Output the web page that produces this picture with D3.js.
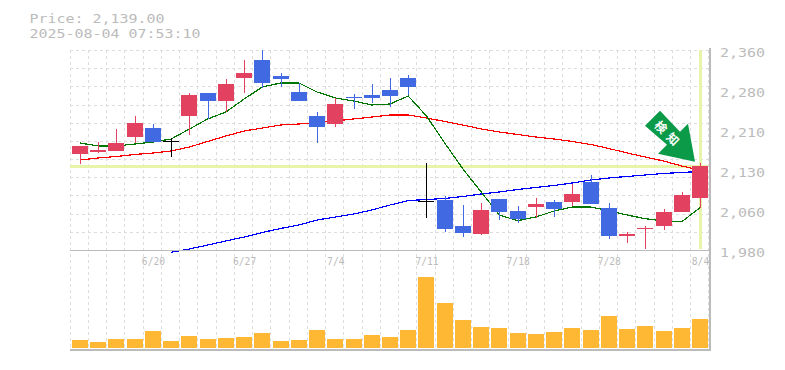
<!DOCTYPE html>
<html>
<head>
    <meta charset="utf-8">
    <title>Price</title>
    <script src="https://cdn.jsdelivr.net/npm/d3@7"></script>
    <style>
        body { margin: 0; background: #fff; }
        svg { display: block; }
        text { font-family: "DejaVu Sans Mono", monospace; fill: #bbb; opacity: 0.99; }
    </style>
</head>

<body>

<script>
    const dates = ["6/16", "6/17", "6/18", "6/19", "6/20", "6/23", "6/24", "6/25", "6/26", "6/27",
        "6/30", "7/1", "7/2", "7/3", "7/4", "7/7", "7/8", "7/9", "7/10", "7/11",
        "7/14", "7/15", "7/16", "7/17", "7/18", "7/22", "7/23", "7/24", "7/25", "7/28",
        "7/29", "7/30", "7/31", "8/1", "8/4"];
    const dateTicks = ["6/20", "6/27", "7/4", "7/11", "7/18", "7/28", "8/4"];
    const priceTicks = [2360, 2284, 2208, 2132, 2056, 1980];

    const opens = [2162, 2166, 2168, 2195, 2212, 2187, 2235, 2278, 2263, 2307, 2341, 2311, 2280, 2235, 2219,
        2271, 2275, 2284, 2307, 2073, 2075, 2026, 2010, 2077, 2054, 2062, 2071, 2071, 2109, 2060,
        2007, 2021, 2026, 2052, 2079];
    const highs = [2178, 2185, 2210, 2235, 2219, 2193, 2278, 2278, 2305, 2341, 2360, 2316, 2297, 2242, 2269,
        2276, 2295, 2307, 2312, 2145, 2083, 2065, 2069, 2077, 2064, 2079, 2075, 2105, 2122, 2069,
        2014, 2026, 2058, 2090, 2145];
    const lows = [2143, 2164, 2168, 2183, 2185, 2157, 2198, 2229, 2242, 2278, 2288, 2290, 2263, 2183, 2214,
        2248, 2259, 2252, 2275, 2041, 2014, 2005, 2008, 2037, 2031, 2041, 2043, 2064, 2067, 2001,
        1993, 1982, 2018, 2052, 2060];
    const closes = [2178, 2170, 2183, 2221, 2185, 2187, 2275, 2263, 2295, 2316, 2297, 2305, 2263, 2214, 2257,
        2269, 2269, 2273, 2290, 2073, 2020, 2012, 2056, 2052, 2039, 2067, 2058, 2086, 2067, 2007,
        2010, 2022, 2052, 2084, 2139];
    const volumes = [80, 60, 90, 90, 170, 70, 120, 90, 100, 110, 150, 70, 80, 180, 90, 90, 130, 110,
        180, 710, 450, 280, 210, 200, 150, 140, 160, 200, 180, 320, 190, 220, 170, 200, 290];

    const maShort = [2183.3, 2177.6, 2177.6, 2181.4, 2185.2, 2190.9, 2209.9, 2228.9, 2242.2, 2266.9, 2289.7, 2297.3,
        2297.3, 2280.2, 2268.8, 2263.1, 2255.5, 2257.4, 2272.6, 2234.6, 2183.3, 2133.9, 2090.2, 2046.5,
        2035.7, 2042.7, 2054.1, 2061.7, 2061.7, 2054.7, 2046.5, 2039.5, 2035.1, 2033.8, 2060.4];
    const maMid = [2151, 2154.8, 2157.7, 2161.5, 2164.3, 2168.1, 2175.7, 2186.2, 2196.6, 2206.1, 2211.8, 2217.5,
        2219.4, 2222.3, 2225.1, 2228.9, 2232.7, 2236.5, 2236.5, 2230.8, 2224.2, 2217.5, 2209.9, 2204.2,
        2199.5, 2194.7, 2190.9, 2186.2, 2180.5, 2172.9, 2164.3, 2156.7, 2149.1, 2139.6, 2132];
    const maLong = [null, null, null, null, null, 1975.6, 1981.9, 1989.5, 1997.1, 2004.7, 2013.3, 2020.9,
        2027.5, 2037, 2042.7, 2048.4, 2056, 2065.5, 2074, 2075.9, 2077.9, 2081.7, 2086.4, 2090.2,
        2094.9, 2098.8, 2102.6, 2107.3, 2113, 2116.8, 2119.7, 2122.5, 2125.4, 2127.3, 2129.2];

    const lastPrice = 2139;
    const stamp = "2025-08-04 07:53:10";

    let width = 785,
        height = 370,
        plotLeft = 70,
        plotRight = 709,
        plotTop = 50,
        priceBottom = 250,
        volumeBottom = 349,
        candleWidth = 16;

    let x = d3.scalePoint().domain(dates).range([80, 700]),
        y = d3.scaleLinear().domain([1980, 2360]).range([priceBottom, plotTop]),
        v = d3.scaleLinear().domain([0, 710]).range([348, 277]),
        gridX = d3.scaleLinear().domain([0, 35]).range([plotLeft, 708.75]),
        gridY = d3.scaleLinear().domain([0, 11]).range([plotTop, priceBottom]);

    let svg = d3.select("body").append("svg")
        .attr("width", width)
        .attr("height", height);

    // grid
    let grid = svg.append("g")
        .attr("stroke", "#ddd")
        .attr("stroke-dasharray", "3,3")
        .attr("shape-rendering", "crispEdges");

    grid.selectAll("line.v")
        .data(d3.range(36))
        .enter().append("line")
        .attr("class", "v")
        .attr("x1", (d) => Math.floor(gridX(d)) + 0.5)
        .attr("x2", (d) => Math.floor(gridX(d)) + 0.5)
        .attr("y1", plotTop)
        .attr("y2", volumeBottom);

    grid.selectAll("line.h")
        .data(d3.range(11))
        .enter().append("line")
        .attr("class", "h")
        .attr("x1", plotLeft)
        .attr("x2", plotRight)
        .attr("y1", (d) => Math.round(gridY(d)) + 0.5)
        .attr("y2", (d) => Math.round(gridY(d)) + 0.5);

    // last price cross
    svg.append("g")
        .attr("fill", "#e6f5a9")
        .call((g) => {
            g.append("rect")
                .attr("x", plotLeft).attr("width", plotRight - plotLeft - 1)
                .attr("y", Math.round(y(lastPrice)) - 1).attr("height", 3);
            g.append("rect")
                .attr("x", x("8/4") - 1).attr("width", 3)
                .attr("y", plotTop).attr("height", priceBottom - plotTop - 1);
        });

    // moving averages
    let line = d3.line()
        .defined((d) => d !== null)
        .x((d, i) => x(dates[i]))
        .y((d) => y(d));

    svg.selectAll("path.ma")
        .data([
            {values: maLong, color: "#0000ff"},
            {values: maMid, color: "#ff0000"},
            {values: maShort, color: "#007700"}
        ])
        .enter().append("path")
        .attr("class", "ma")
        .attr("fill", "none")
        .attr("stroke", (d) => d.color)
        .attr("stroke-width", 1.2)
        .attr("shape-rendering", "crispEdges")
        .attr("d", (d) => line(d.values));

    // candles
    function candleColor(i) {
        if (closes[i] > opens[i]) return "#e2425f";
        if (closes[i] < opens[i]) return "#4169e1";
        return "#000";
    }

    function candleLeft(d) {
        return Math.round(x(d) - candleWidth / 2);
    }

    let candles = svg.selectAll("g.candle")
        .data(dates)
        .enter().append("g")
        .attr("class", "candle")
        .attr("shape-rendering", "crispEdges");

    candles.append("line")
        .attr("x1", (d) => candleLeft(d) + 8.5)
        .attr("x2", (d) => candleLeft(d) + 8.5)
        .attr("y1", (d, i) => Math.round(y(highs[i])))
        .attr("y2", (d, i) => Math.round(y(lows[i])))
        .attr("stroke", (d, i) => candleColor(i));

    candles.append("rect")
        .attr("x", (d) => candleLeft(d))
        .attr("width", candleWidth)
        .attr("y", (d, i) => Math.round(y(Math.max(opens[i], closes[i]))))
        .attr("height", (d, i) => Math.max(1, Math.round(y(Math.min(opens[i], closes[i]))) - Math.round(y(Math.max(opens[i], closes[i])))))
        .attr("fill", (d, i) => candleColor(i));

    // volume
    svg.selectAll("rect.volume")
        .data(volumes)
        .enter().append("rect")
        .attr("class", "volume")
        .attr("x", (d, i) => candleLeft(dates[i]))
        .attr("width", candleWidth)
        .attr("y", (d) => Math.round(v(d)))
        .attr("height", (d) => 348 - Math.round(v(d)))
        .attr("fill", "#ffb833");

    // frame
    let frame = svg.append("g")
        .attr("fill", "#bbb");
    frame.append("rect").attr("x", plotLeft).attr("y", priceBottom).attr("width", plotRight + 1 - plotLeft).attr("height", 1);
    frame.append("rect").attr("x", plotLeft).attr("y", volumeBottom).attr("width", plotRight + 2 - plotLeft).attr("height", 2);
    frame.append("rect").attr("x", plotRight).attr("y", plotTop - 2).attr("width", 2).attr("height", volumeBottom - plotTop + 2);

    // the reference font is wide and low, so stretch a smaller size to its advance
    function stretch(sel, perChar) {
        sel.attr("lengthAdjust", "spacingAndGlyphs")
            .attr("textLength", function () { return this.textContent.length * perChar; });
    }

    // axes
    let xAxis = d3.axisBottom(x).tickValues(dateTicks).tickSize(0).tickPadding(0);
    let yAxis = d3.axisRight(y).tickValues(priceTicks).tickSize(0).tickPadding(0)
        .tickFormat((d) => d3.format(",")(Math.round(d / 10) * 10));

    svg.append("g")
        .attr("class", "axis")
        .attr("transform", "translate(0,257)")
        .call(xAxis)
        .call((g) => g.select(".domain").remove())
        .selectAll("text")
        .attr("font-size", 11)
        .call(stretch, 5.8);

    svg.append("g")
        .attr("class", "axis")
        .attr("transform", "translate(720,2.5)")
        .call(yAxis)
        .call((g) => g.select(".domain").remove())
        .selectAll("text")
        .attr("font-size", 13)
        .call(stretch, 9);

    svg.selectAll(".axis text").attr("font-family", "DejaVu Sans Mono").style("fill", "#bbb");

    // title
    svg.append("text").attr("x", 29.5).attr("y", 23).attr("font-size", 13)
        .text("Price: " + d3.format(",.2f")(lastPrice))
        .call(stretch, 9);
    svg.append("text").attr("x", 29.5).attr("y", 38).attr("font-size", 13)
        .text(stamp)
        .call(stretch, 9);

    // arrow, hung from the last close
    let tipX = x("8/4") - 5,
        tipY = y(lastPrice) - 4.5;
    let arrow = svg.append("g").attr("transform", "translate(" + tipX + "," + tipY + ")");
    arrow.append("path")
        .attr("fill", "#0a9a48")
        .attr("d", d3.line()([[-35, -51], [-15, -30], [-7, -38], [0, 0], [-37, -8], [-28, -17], [-50, -36]]));
    arrow.append("text")
        .attr("transform", "translate(-28.5,-28.5) rotate(45)")
        .attr("text-anchor", "middle")
        .attr("dx", 2.5)
        .attr("y", 4)
        .attr("font-size", 12)
        .attr("font-weight", "bold")
        .attr("letter-spacing", 5)
        .style("font-family", "Noto Sans CJK JP")
        .style("fill", "#fff")
        .text("検知");
</script>

</body>

</html>
